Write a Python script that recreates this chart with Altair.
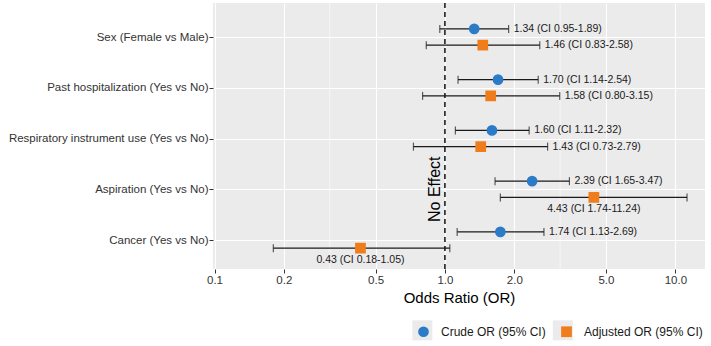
import altair as alt
import pandas as pd

# Odds ratios with 95% confidence intervals, crude and adjusted
categories = [
    "Sex (Female vs Male)",
    "Past hospitalization (Yes vs No)",
    "Respiratory instrument use (Yes vs No)",
    "Aspiration (Yes vs No)",
    "Cancer (Yes vs No)",
]
crude_or = [1.34, 1.70, 1.60, 2.39, 1.74]
crude_lo = [0.95, 1.14, 1.11, 1.65, 1.13]
crude_hi = [1.89, 2.54, 2.32, 3.47, 2.69]
adj_or = [1.46, 1.58, 1.43, 4.43, 0.43]
adj_lo = [0.83, 0.80, 0.73, 1.74, 0.18]
adj_hi = [2.58, 3.15, 2.79, 11.24, 1.05]

series_names = ["Crude OR (95% CI)", "Adjusted OR (95% CI)"]
x_ticks = [0.1, 0.2, 0.5, 1.0, 2.0, 5.0, 10.0]
x_minor = [0.1 ** 0.5, 10 ** 0.5]

FONT = "Liberation Sans, Arial, Helvetica, sans-serif"
BLUE = "#2a7bc8"
ORANGE = "#f07d1c"
PANEL = "#ebebeb"

rows = []
for i, cat in enumerate(categories):
    for name, off, o, lo, hi in [
        (series_names[0], -0.16, crude_or[i], crude_lo[i], crude_hi[i]),
        (series_names[1], 0.16, adj_or[i], adj_lo[i], adj_hi[i]),
    ]:
        rows.append({
            "category": cat,
            "type": name,
            "ypos": i + off,
            "or": o,
            "lo": lo,
            "hi": hi,
            "label": f"{o:.2f} (CI {lo:.2f}-{hi:.2f})",
            # very wide intervals get their label underneath the marker
            "below": (hi / lo) > 5,
        })
df = pd.DataFrame(rows)

xscale = alt.Scale(type="log", domain=[0.0985, 13.45], nice=False, zero=False)
yscale = alt.Scale(domain=[-0.67, 4.571], reverse=True, nice=False, zero=False)

label_expr = "[" + ",".join("'" + c + "'" for c in categories) + "][datum.value]"

x_enc = alt.X(
    "or:Q", scale=xscale,
    axis=alt.Axis(values=x_ticks, format=".1f", title="Odds Ratio (OR)",
                  labelFontSize=11.5, titleFontSize=15),
)
y_enc = alt.Y(
    "ypos:Q", scale=yscale,
    axis=alt.Axis(values=list(range(len(categories))), labelExpr=label_expr, title=None,
                  labelFontSize=11.5),
)

base = alt.Chart(df)

minor = alt.Chart(pd.DataFrame({"v": x_minor})).mark_rule(
    color="white", strokeWidth=0.6
).encode(x=alt.X("v:Q", scale=xscale))

null_line = alt.Chart(pd.DataFrame({"v": [1.0]})).mark_rule(
    color="black", strokeWidth=1.4, strokeDash=[5, 4]
).encode(x=alt.X("v:Q", scale=xscale))

bars = base.mark_rule(color="#1a1a1a", strokeWidth=1.2).encode(
    x=alt.X("lo:Q", scale=xscale), x2="hi:Q", y=y_enc
)
cap_lo = base.mark_tick(color="#1a1a1a", orient="vertical", size=8, thickness=1.2).encode(
    x=alt.X("lo:Q", scale=xscale), y=y_enc
)
cap_hi = base.mark_tick(color="#1a1a1a", orient="vertical", size=8, thickness=1.2).encode(
    x=alt.X("hi:Q", scale=xscale), y=y_enc
)

LEG_X, LEG_Y = 204, 322
SYM = 115
KEY = 400
LABEL_OFF = 11
COL_PAD = 14
FIRST_LABEL_W = 104.7  # rendered width of the first legend label at 12px
shift = (KEY ** 0.5 - SYM ** 0.5) / 2

legend = alt.Legend(
    title=None, orient="none", direction="horizontal",
    legendX=LEG_X, legendY=LEG_Y, padding=0,
    symbolSize=SYM, labelOffset=LABEL_OFF, columnPadding=COL_PAD, zindex=2,
)

points = base.mark_point(filled=True, opacity=1, size=SYM).encode(
    x=x_enc,
    y=y_enc,
    color=alt.Color(
        "type:N",
        scale=alt.Scale(domain=series_names, range=[BLUE, ORANGE]),
        legend=legend,
    ),
    shape=alt.Shape(
        "type:N",
        scale=alt.Scale(domain=series_names, range=["circle", "square"]),
        legend=legend,
    ),
)

# grey key boxes behind the legend symbols (legend only, no marks drawn);
# prefixed keys keep this legend separate from the series legend
key_names = ["k:" + s for s in series_names]
key_pad = SYM ** 0.5 + LABEL_OFF + FIRST_LABEL_W + COL_PAD - KEY ** 0.5
key_boxes = base.transform_filter("false").transform_calculate(
    key="'k:' + datum.type"
).mark_square(opacity=1).encode(
    x=x_enc,
    y=y_enc,
    fill=alt.Fill(
        "key:N",
        scale=alt.Scale(domain=key_names, range=[PANEL, PANEL]),
        legend=alt.Legend(
            title=None, orient="none", direction="horizontal",
            legendX=LEG_X - shift, legendY=LEG_Y - shift, padding=0,
            symbolType="square", symbolSize=KEY, symbolOpacity=1,
            symbolStrokeWidth=0, labelExpr="''",
            labelOffset=0, columnPadding=key_pad, zindex=1,
        ),
    ),
)

labels_right = base.transform_filter("!datum.below").mark_text(
    align="left", baseline="middle", dx=5, font=FONT, fontSize=10.5, color="#1a1a1a"
).encode(x=alt.X("hi:Q", scale=xscale), y=y_enc, text="label:N")

labels_below = base.transform_filter("datum.below").mark_text(
    align="center", baseline="middle", dy=12, font=FONT, fontSize=10.5, color="#1a1a1a"
).encode(x=alt.X("or:Q", scale=xscale), y=y_enc, text="label:N")

no_effect = alt.Chart(
    pd.DataFrame({"v": [1.0], "p": [categories.index("Aspiration (Yes vs No)")], "t": ["No Effect"]})
).mark_text(
    angle=270, align="center", baseline="bottom", font=FONT, fontSize=16, color="black", dy=-2
).encode(x=alt.X("v:Q", scale=xscale), y=alt.Y("p:Q", scale=yscale), text="t:N")

chart = alt.layer(
    minor, null_line, bars, cap_lo, cap_hi, key_boxes, points, labels_right, labels_below, no_effect
).properties(
    width=492, height=266,
    autosize=alt.AutoSizeParams(type="none"),
    padding={"left": 213, "top": 3, "right": 6, "bottom": 77},
    background="white",
).configure_view(
    fill=PANEL, stroke=None
).configure_axis(
    domain=False,
    grid=True,
    gridColor="white",
    gridWidth=1.1,
    tickColor="#333333",
    tickSize=4,
    tickWidth=1,
    labelFont=FONT,
    labelColor="#333333",
    labelPadding=1,
    titleFont=FONT,
    titleFontWeight="normal",
    titleColor="black",
    titlePadding=5,
    labelLimit=400,
).configure_legend(
    labelFont=FONT,
    labelFontSize=12,
    labelColor="#1a1a1a",
    labelLimit=400,
)

chart.save("out.html", embed_options={"renderer": "svg", "actions": False})
